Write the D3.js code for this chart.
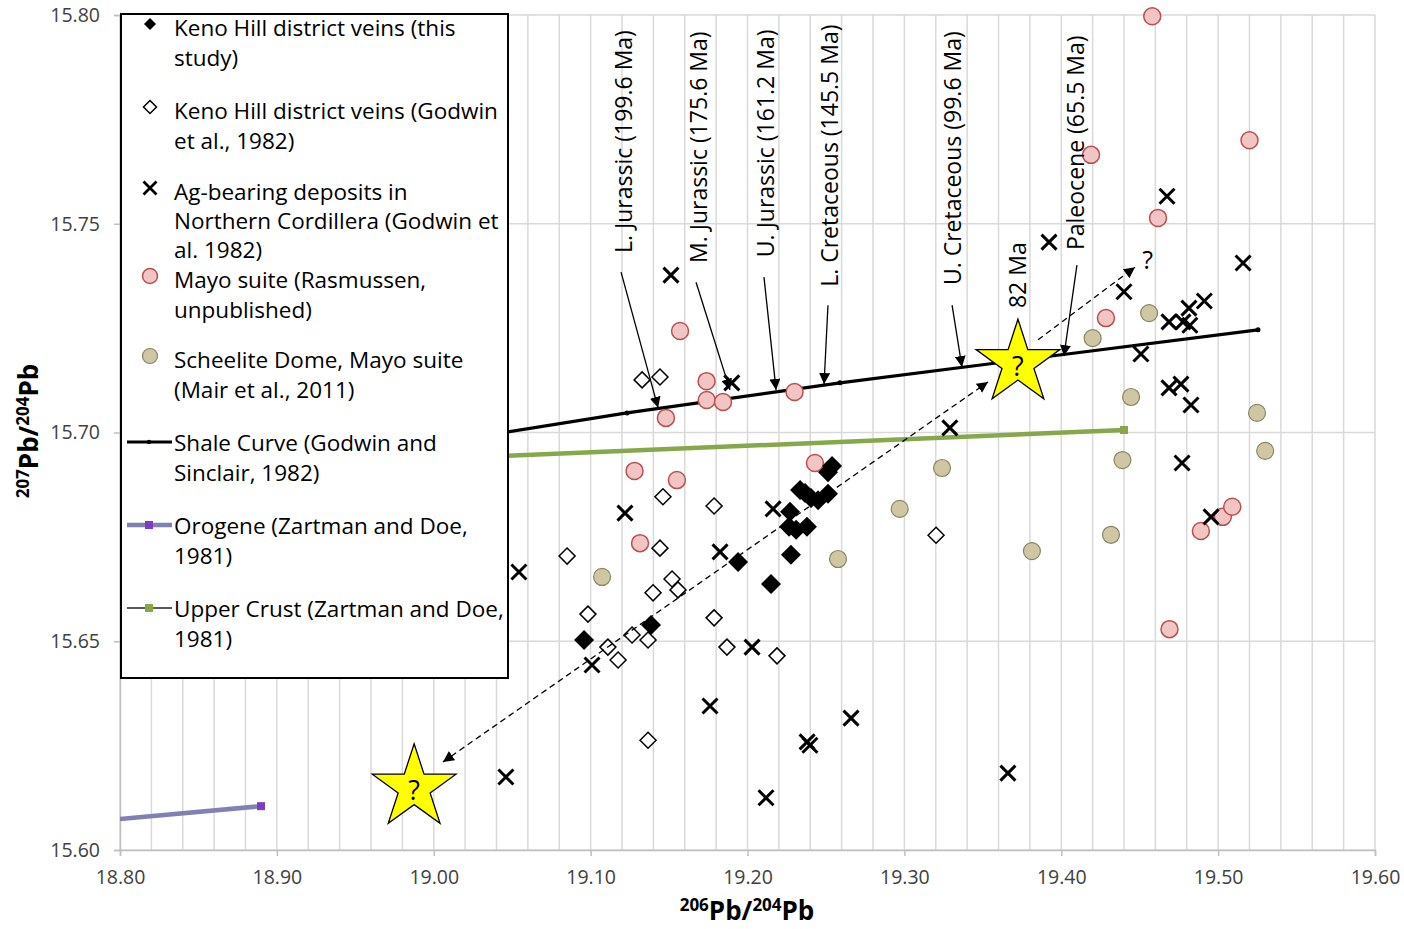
<!DOCTYPE html>
<html>
<head>
<meta charset="utf-8">
<script src="https://cdn.jsdelivr.net/npm/d3@7/dist/d3.min.js"></script>
<style>
  html, body { margin: 0; padding: 0; background: #fff; }
  svg { display: block; font-family: "Open Sans", Lato, sans-serif; }
</style>
</head>
<body>
<svg id="chart" width="1404" height="929"></svg>
<script>
// ---------------- DATA ----------------
const xTicks = [18.80, 18.90, 19.00, 19.10, 19.20, 19.30, 19.40, 19.50, 19.60];
const yTicks = [15.60, 15.65, 15.70, 15.75, 15.80];

const kenoThisStudy = [
  [19.0958, 15.6503], [19.1385, 15.6539], [19.1940, 15.6690], [19.2150, 15.6637],
  [19.2277, 15.6707], [19.2271, 15.6810], [19.2265, 15.6774], [19.2310, 15.6767],
  [19.2379, 15.6774], [19.2335, 15.6862], [19.2367, 15.6855], [19.2405, 15.6843],
  [19.2450, 15.6838], [19.2513, 15.6853], [19.2513, 15.6905], [19.2539, 15.6920]
];
const kenoGodwin = [
  [19.1328, 15.7126], [19.1442, 15.7133], [19.1461, 15.6846], [19.1787, 15.6824],
  [19.0850, 15.6704], [19.1442, 15.6723], [19.1519, 15.6649], [19.1557, 15.6623],
  [19.1398, 15.6616], [19.0983, 15.6565], [19.1787, 15.6556], [19.1264, 15.6515],
  [19.1366, 15.6503], [19.1110, 15.6486], [19.1175, 15.6455], [19.1869, 15.6486],
  [19.2188, 15.6465], [19.1366, 15.6263], [19.3202, 15.6754]
];
const agBearing = [
  [19.1512, 15.7377], [19.3922, 15.7456], [19.4674, 15.7566], [19.5159, 15.7406],
  [19.4400, 15.7337], [19.4912, 15.7315], [19.4814, 15.7298], [19.4687, 15.7265],
  [19.4776, 15.7265], [19.4820, 15.7257], [19.4508, 15.7188], [19.4687, 15.7107],
  [19.4763, 15.7116], [19.4827, 15.7066], [19.4770, 15.6927], [19.4955, 15.6798],
  [19.3290, 15.7011], [19.1900, 15.7119], [19.1219, 15.6807], [19.2163, 15.6817],
  [19.1825, 15.6714], [19.0543, 15.6666], [19.1009, 15.6443], [19.2029, 15.6486],
  [19.1761, 15.6345], [19.2660, 15.6316], [19.2380, 15.6259], [19.2398, 15.6251],
  [19.2118, 15.6125], [19.3660, 15.6184], [19.0460, 15.6175]
];
const mayoSuite = [
  [19.4580, 15.7997], [19.5200, 15.7700], [19.4190, 15.7665], [19.4617, 15.7514],
  [19.4285, 15.7274], [19.1570, 15.7243], [19.1739, 15.7123], [19.1740, 15.7078],
  [19.1844, 15.7073], [19.2300, 15.7097], [19.1480, 15.7035], [19.1280, 15.6908],
  [19.1550, 15.6886], [19.2430, 15.6927], [19.1315, 15.6735], [19.4690, 15.6529],
  [19.4890, 15.6764], [19.5030, 15.6798], [19.5090, 15.6822]
];
const scheeliteDome = [
  [19.4560, 15.7286], [19.4200, 15.7226], [19.4445, 15.7085], [19.5248, 15.7047],
  [19.5300, 15.6956], [19.4390, 15.6934], [19.3240, 15.6915], [19.2970, 15.6817],
  [19.4317, 15.6755], [19.3813, 15.6716], [19.2577, 15.6697], [19.1073, 15.6654]
];
const shaleCurve = [[18.99, 15.6967], [19.1232, 15.7047], [19.2590, 15.7119], [19.5254, 15.7246]];
const orogene = [[18.80, 15.6074], [18.8899, 15.6105]];
const upperCrust = [[18.90, 15.6921], [19.4400, 15.7006]];

const ageLabels = ["L. Jurassic (199.6 Ma)", "M. Jurassic (175.6 Ma)", "U. Jurassic (161.2 Ma)",
                   "L. Cretaceous (145.5 Ma)", "U. Cretaceous (99.6 Ma)", "82 Ma", "Paleocene (65.5 Ma)"];
const ageLabelAt = [[19.1206, 15.7430], [19.1684, 15.7406], [19.2112, 15.7420],
                    [19.2520, 15.7349], [19.3304, 15.7353], [19.3718, 15.7298], [19.4088, 15.7437]];
const ageArrows = [
  [[19.1194, 15.7384], [19.1430, 15.7059]],
  [[19.1672, 15.7360], [19.1888, 15.7102]],
  [[19.2105, 15.7372], [19.2182, 15.7102]],
  [[19.2513, 15.7305], [19.2488, 15.7116]],
  [[19.3304, 15.7305], [19.3367, 15.7157]],
  null,
  [[19.4100, 15.7401], [19.4017, 15.7183]]
];
const stars = [[19.3724, 15.7166], [18.9875, 15.6149]];
const trendArrows = [
  {from: [19.0059, 15.6211], to: [19.3533, 15.7121], both: true},
  {from: [19.3852, 15.7222], to: [19.4470, 15.7396], both: false}
];
const trendQuestion = [19.4550, 15.7415];

const legendItems = [
  {key: "filledDiamond", lines: ["Keno Hill district veins (this", "study)"]},
  {key: "openDiamond", lines: ["Keno Hill district veins (Godwin", "et al., 1982)"]},
  {key: "cross", lines: ["Ag-bearing deposits in", "Northern Cordillera (Godwin et", "al. 1982)"]},
  {key: "pink", lines: ["Mayo suite (Rasmussen,", "unpublished)"]},
  {key: "tan", lines: ["Scheelite Dome, Mayo suite", "(Mair et al., 2011)"]},
  {key: "shale", lines: ["Shale Curve (Godwin and", "Sinclair, 1982)"]},
  {key: "orogene", lines: ["Orogene (Zartman and Doe,", "1981)"]},
  {key: "crust", lines: ["Upper Crust (Zartman and Doe,", "1981)"]}
];
const legendLineY = [27, 110, 191, 279, 359, 442, 525, 608];
const legendLineGap = [30, 30, 29, 30, 30, 30, 30, 30];

// ---------------- CHART ----------------
const svg = d3.select("#chart");
const L = 120, R = 1375, T = 15, B = 850;
const x = d3.scaleLinear().domain([18.80, 19.60]).range([L, R]);
const y = d3.scaleLinear().domain([15.60, 15.80]).range([B, T]);

const gridColor = "#d9d9d9";
const pink = {fill: "#f0c5c4", stroke: "#b9504e"};
const tan = {fill: "#cfc7a3", stroke: "#8a8464"};
const oroColor = "#8080b4", oroMarker = "#7e3fbf";
const crustColor = "#86a84a";
const textSize = 22.5;

const defs = svg.append("defs");
defs.append("marker").attr("id", "arr").attr("viewBox", "0 0 10 10")
  .attr("refX", 10).attr("refY", 5).attr("markerWidth", 11).attr("markerHeight", 11)
  .attr("markerUnits", "userSpaceOnUse").attr("orient", "auto-start-reverse")
  .append("path").attr("d", "M0,0 L10,5 L0,10 Z").attr("fill", "#000");
defs.append("clipPath").attr("id", "plotClip").append("rect")
  .attr("x", L).attr("y", T - 12).attr("width", R - L).attr("height", B - T + 12);

// gridlines
const vGrid = d3.range(0, 41).map(i => 18.80 + i * 0.02);
svg.append("g").selectAll("line").data(vGrid).join("line")
  .attr("x1", d => x(d)).attr("x2", d => x(d)).attr("y1", T).attr("y2", B)
  .attr("stroke", gridColor).attr("stroke-width", 1.5);
svg.append("g").selectAll("line").data(yTicks).join("line")
  .attr("x1", L).attr("x2", R).attr("y1", d => y(d)).attr("y2", d => y(d))
  .attr("stroke", gridColor).attr("stroke-width", 1.5);

// axes
const xAxis = svg.append("g").attr("transform", `translate(0,${B})`)
  .call(d3.axisBottom(x).tickValues(xTicks).tickFormat(d3.format(".2f")).tickSize(6).tickPadding(12));
const yAxis = svg.append("g").attr("transform", `translate(${L},0)`)
  .call(d3.axisLeft(y).tickValues(yTicks).tickFormat(d3.format(".2f")).tickSize(6).tickPadding(14));
[xAxis, yAxis].forEach(g => {
  g.select(".domain").attr("stroke", "#bfbfbf").attr("stroke-width", 1.5);
  g.selectAll(".tick line").attr("stroke", "#bfbfbf").attr("stroke-width", 1.5);
  g.selectAll(".tick text").attr("fill", "#404040").attr("font-size", 19.5)
    .attr("font-family", "'Open Sans', sans-serif");
});
xAxis.selectAll(".tick text").attr("dy", "0.8em");

// axis titles
const xt = svg.append("text").attr("x", 747).attr("y", 920).attr("text-anchor", "middle")
  .attr("font-weight", "bold").attr("font-size", 26).attr("fill", "#000");
xt.append("tspan").attr("font-size", 17).attr("dy", -9).text("206");
xt.append("tspan").attr("dy", 9).text("Pb/");
xt.append("tspan").attr("font-size", 17).attr("dy", -9).text("204");
xt.append("tspan").attr("dy", 9).text("Pb");

const yt = svg.append("text").attr("transform", "translate(38,431) rotate(-90)").attr("text-anchor", "middle")
  .attr("font-weight", "bold").attr("font-size", 26).attr("fill", "#000");
yt.append("tspan").attr("font-size", 17).attr("dy", -9).text("207");
yt.append("tspan").attr("dy", 9).text("Pb/");
yt.append("tspan").attr("font-size", 17).attr("dy", -9).text("204");
yt.append("tspan").attr("dy", 9).text("Pb");

const plot = svg.append("g").attr("clip-path", "url(#plotClip)");
const line = d3.line().x(d => x(d[0])).y(d => y(d[1]));

// reference lines
plot.append("path").datum(orogene).attr("d", line).attr("fill", "none")
  .attr("stroke", oroColor).attr("stroke-width", 4.5);
plot.append("rect").attr("x", x(orogene[1][0]) - 4).attr("y", y(orogene[1][1]) - 4)
  .attr("width", 8).attr("height", 8).attr("fill", oroMarker);

plot.append("path").datum(upperCrust).attr("d", line).attr("fill", "none")
  .attr("stroke", crustColor).attr("stroke-width", 4.5);
plot.append("rect").attr("x", x(upperCrust[1][0]) - 4).attr("y", y(upperCrust[1][1]) - 4)
  .attr("width", 8).attr("height", 8).attr("fill", crustColor);

plot.append("path").datum(shaleCurve).attr("d", line).attr("fill", "none")
  .attr("stroke", "#000").attr("stroke-width", 3.2);
plot.selectAll(".shaleDot").data(shaleCurve.slice(1)).join("circle")
  .attr("cx", d => x(d[0])).attr("cy", d => y(d[1])).attr("r", 2.5).attr("fill", "#000");

// symbols
const diamondPath = s => `M0,${-s}L${s},0L0,${s}L${-s},0Z`;
const crossPath = s => `M${-s},${-s}L${s},${s}M${-s},${s}L${s},${-s}`;

plot.selectAll(".pink").data(mayoSuite).join("circle")
  .attr("cx", d => x(d[0])).attr("cy", d => y(d[1])).attr("r", 8.5)
  .attr("fill", pink.fill).attr("stroke", pink.stroke).attr("stroke-width", 1.5);
plot.selectAll(".tan").data(scheeliteDome).join("circle")
  .attr("cx", d => x(d[0])).attr("cy", d => y(d[1])).attr("r", 8.5)
  .attr("fill", tan.fill).attr("stroke", tan.stroke).attr("stroke-width", 1.2);
plot.selectAll(".od").data(kenoGodwin).join("path")
  .attr("transform", d => `translate(${x(d[0])},${y(d[1])})`).attr("d", diamondPath(8))
  .attr("fill", "#fff").attr("stroke", "#000").attr("stroke-width", 1.5);
plot.selectAll(".fd").data(kenoThisStudy).join("path")
  .attr("transform", d => `translate(${x(d[0])},${y(d[1])})`).attr("d", diamondPath(10))
  .attr("fill", "#000");
plot.selectAll(".cx").data(agBearing).join("path")
  .attr("transform", d => `translate(${x(d[0])},${y(d[1])})`).attr("d", crossPath(7.5))
  .attr("fill", "none").attr("stroke", "#000").attr("stroke-width", 3);

// trend arrows (dashed)
trendArrows.forEach(a => {
  const p = svg.append("line")
    .attr("x1", x(a.from[0])).attr("y1", y(a.from[1]))
    .attr("x2", x(a.to[0])).attr("y2", y(a.to[1]))
    .attr("stroke", "#000").attr("stroke-width", 1.3).attr("stroke-dasharray", "6,4")
    .attr("marker-end", "url(#arr)");
  if (a.both) p.attr("marker-start", "url(#arr)");
});
svg.append("text").attr("x", x(trendQuestion[0])).attr("y", y(trendQuestion[1]))
  .attr("text-anchor", "middle").attr("dominant-baseline", "central")
  .attr("font-size", 25).attr("fill", "#000").text("?");

// stars
const starPath = (R0) => {
  const r0 = R0 * 0.382;
  const pts = d3.range(10).map(i => {
    const ang = -Math.PI / 2 + i * Math.PI / 5;
    const rr = i % 2 === 0 ? R0 : r0;
    return [rr * Math.cos(ang), rr * Math.sin(ang)];
  });
  return "M" + pts.map(p => p.join(",")).join("L") + "Z";
};
stars.forEach(s => {
  const g = svg.append("g").attr("transform", `translate(${x(s[0])},${y(s[1])})`);
  g.append("path").attr("d", starPath(44)).attr("fill", "#ffff00")
    .attr("stroke", "#000").attr("stroke-width", 1.3);
  g.append("text").attr("text-anchor", "middle").attr("dominant-baseline", "central")
    .attr("y", 2).attr("font-size", 27).attr("fill", "#000").text("?");
});

// age annotations
ageLabels.forEach((t, i) => {
  const p = ageLabelAt[i];
  svg.append("text").attr("transform", `translate(${x(p[0])},${y(p[1])}) rotate(-90)`)
    .attr("dominant-baseline", "central").attr("font-size", 23).attr("fill", "#000").text(t);
  const a = ageArrows[i];
  if (a) {
    svg.append("line").attr("x1", x(a[0][0])).attr("y1", y(a[0][1]))
      .attr("x2", x(a[1][0])).attr("y2", y(a[1][1]))
      .attr("stroke", "#000").attr("stroke-width", 1.3).attr("marker-end", "url(#arr)");
  }
});

// legend
const lg = svg.append("g");
lg.append("rect").attr("x", 121).attr("y", 14).attr("width", 387).attr("height", 664)
  .attr("fill", "#fff").attr("stroke", "#000").attr("stroke-width", 2);
legendItems.forEach((it, i) => {
  const cy = legendLineY[i];
  const sym = lg.append("g").attr("transform", `translate(150,${cy - 3})`);
  if (it.key === "filledDiamond") sym.append("path").attr("d", diamondPath(6)).attr("fill", "#000");
  if (it.key === "openDiamond") sym.append("path").attr("d", diamondPath(6.5)).attr("fill", "#fff").attr("stroke", "#000").attr("stroke-width", 1.5);
  if (it.key === "cross") sym.append("path").attr("d", crossPath(6.5)).attr("stroke", "#000").attr("stroke-width", 2.8);
  if (it.key === "pink") sym.append("circle").attr("r", 7.5).attr("fill", pink.fill).attr("stroke", pink.stroke).attr("stroke-width", 1.5);
  if (it.key === "tan") sym.append("circle").attr("r", 7.5).attr("fill", tan.fill).attr("stroke", tan.stroke).attr("stroke-width", 1.2);
  if (it.key === "shale") {
    lg.append("line").attr("x1", 127).attr("x2", 172).attr("y1", cy).attr("y2", cy).attr("stroke", "#000").attr("stroke-width", 3);
    lg.append("circle").attr("cx", 149).attr("cy", cy).attr("r", 2.2).attr("fill", "#000");
  }
  if (it.key === "orogene") {
    lg.append("line").attr("x1", 127).attr("x2", 172).attr("y1", cy).attr("y2", cy).attr("stroke", oroColor).attr("stroke-width", 4.5);
    lg.append("rect").attr("x", 145).attr("y", cy - 4).attr("width", 8).attr("height", 8).attr("fill", oroMarker);
  }
  if (it.key === "crust") {
    lg.append("line").attr("x1", 127).attr("x2", 172).attr("y1", cy).attr("y2", cy).attr("stroke", "#222").attr("stroke-width", 1.5);
    lg.append("rect").attr("x", 145).attr("y", cy - 4).attr("width", 8).attr("height", 8).attr("fill", crustColor);
  }
  it.lines.forEach((ln, j) => {
    lg.append("text").attr("x", 174).attr("y", cy + j * legendLineGap[i]).attr("dominant-baseline", "central")
      .attr("font-size", textSize).attr("fill", "#000").text(ln);
  });
});
</script>
</body>
</html>
